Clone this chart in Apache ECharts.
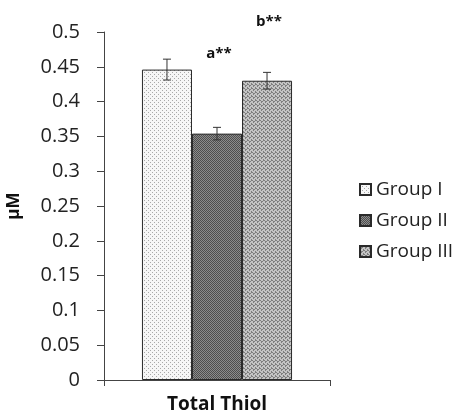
<!DOCTYPE html>
<html>
<head>
<meta charset="utf-8">
<script src="https://cdn.jsdelivr.net/npm/echarts@6/dist/echarts.min.js"></script>
<style>html,body{margin:0;padding:0;background:#fff;}#c{width:463px;height:414px;}</style>
</head>
<body>
<div id="c"></div>
<script>
// ---- data ----
const categories = ['Total Thiol'];
const groups = ['Group I', 'Group II', 'Group III'];
const means = [0.446, 0.354, 0.430];
const errors = [0.015, 0.009, 0.012];
const annotations = ['', 'a**', 'b**'];
const yTicks = ['0', '0.05', '0.1', '0.15', '0.2', '0.25', '0.3', '0.35', '0.4', '0.45', '0.5'];

// ---- style ----
const annotY = [null, 0.469, 0.515];
const catGap = 0.336;

function makePattern(bg, fg, cells, size) {
  const c = document.createElement('canvas');
  c.width = size; c.height = size;
  const ctx = c.getContext('2d');
  ctx.fillStyle = bg; ctx.fillRect(0, 0, size, size);
  ctx.fillStyle = fg;
  cells.forEach(p => ctx.fillRect(p[0], p[1], 1, 1));
  return c;
}
const patterns = [
  makePattern('#f6f6f6', '#a8a8a8', [[0,0],[2,2]], 4),
  makePattern('#8c8c8c', '#4e4e4e', [[0,0],[2,0],[1,1],[3,1],[0,2],[2,2],[1,3],[3,3]], 4),
  makePattern('#c4c4c4', '#7e7e7e', [[0,0],[2,1],[1,2],[3,3],[3,0],[1,1]], 4)
];

const chart = echarts.init(document.getElementById('c'), null, {renderer: 'canvas'});

const series = [];
groups.forEach((g, i) => {
  series.push({
    name: g,
    type: 'bar',
    data: [means[i]],
    barGap: '0%',
    barCategoryGap: (catGap * 100) + '%',
    itemStyle: {
      color: {image: patterns[i], repeat: 'repeat'},
      borderColor: '#2a2a2a',
      borderWidth: 1
    },
    emphasis: {disabled: true}
  });
});

series.push({
  type: 'custom',
  name: 'err',
  data: [0],
  z: 10,
  silent: true,
  renderItem: function (params, api) {
    const band = api.size([1, 0])[0];
    const groupW = band * (1 - catGap);
    const barW = groupW / groups.length;
    const center = api.coord([0, 0])[0];
    const children = [];
    groups.forEach((g, i) => {
      const x = center - groupW / 2 + barW * (i + 0.5);
      const yHi = api.coord([0, means[i] + errors[i]])[1];
      const yLo = api.coord([0, means[i] - errors[i]])[1];
      const st = {stroke: '#333', lineWidth: 1};
      children.push({type: 'line', shape: {x1: x, y1: yHi, x2: x, y2: yLo}, style: st});
      children.push({type: 'line', shape: {x1: x - 4, y1: yHi, x2: x + 4, y2: yHi}, style: st});
      children.push({type: 'line', shape: {x1: x - 4, y1: yLo, x2: x + 4, y2: yLo}, style: st});
      if (annotations[i]) {
        const ty = api.coord([0, annotY[i]])[1];
        children.push({type: 'text', style: {
          text: annotations[i], x: x + 2, y: ty, align: 'center', verticalAlign: 'middle',
          font: 'bold 15px "Open Sans"', fill: '#111'
        }});
      }
    });
    return {type: 'group', children: children};
  }
});

chart.setOption({
  animation: false,
  backgroundColor: '#fff',
  grid: {left: 104, right: 133, top: 32, bottom: 34, outerBoundsMode: 'none', containLabel: false},
  legend: {
    orient: 'vertical',
    left: 354,
    top: 174,
    data: groups,
    itemWidth: 11,
    itemHeight: 11,
    itemGap: 10,
    icon: 'rect',
    textStyle: {fontFamily: 'Open Sans', fontSize: 19, color: '#222', lineHeight: 21, padding: [0, 0, 0, 0]},
    selectedMode: false
  },
  xAxis: {
    type: 'category',
    data: categories,
    name: 'Total Thiol',
    nameLocation: 'middle',
    nameGap: 15,
    nameTextStyle: {fontFamily: 'Open Sans', fontWeight: 'bold', fontSize: 19, color: '#111'},
    axisLine: {lineStyle: {color: '#444', width: 1}},
    axisTick: {show: true, length: 6, lineStyle: {color: '#444'}},
    axisLabel: {show: false}
  },
  yAxis: {
    type: 'value',
    min: 0,
    max: 0.5,
    interval: 0.05,
    name: 'µM',
    nameLocation: 'middle',
    nameGap: 81,
    nameTextStyle: {fontFamily: 'Open Sans', fontWeight: 'bold', fontSize: 17, color: '#111'},
    axisLine: {show: true, lineStyle: {color: '#444', width: 1}},
    axisTick: {show: true, length: 7, lineStyle: {color: '#444'}},
    splitLine: {show: false},
    axisLabel: {
      margin: 24,
      fontFamily: 'Open Sans',
      fontSize: 20,
      color: '#222',
      formatter: function (v) {
        const idx = Math.round(v / 0.05);
        return yTicks[idx] !== undefined ? yTicks[idx] : '';
      }
    }
  },
  series: series
});
</script>
</body>
</html>
